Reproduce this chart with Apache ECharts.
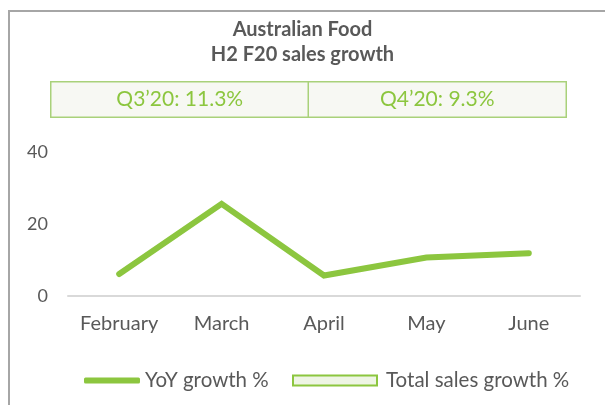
<!DOCTYPE html>
<html>
<head>
<meta charset="utf-8">
<script src="https://cdn.jsdelivr.net/npm/echarts@6/dist/echarts.min.js"></script>
<style>
  html, body { margin: 0; padding: 0; background: #fff; }
  #chart { width: 605px; height: 405px; }
</style>
</head>
<body>
<div id="chart"></div>
<script>
// monthly YoY growth (%)
const months = ['February', 'March', 'April', 'May', 'June'];
const yoyGrowth = [6.1, 25.6, 5.7, 10.7, 11.9];

// quarterly total sales growth (%)
const quarters = ["Q3\u201920", "Q4\u201920"];
const totalSalesGrowth = [11.3, 9.3];

const yTicks = [0, 20, 40];

const GREEN = '#8cc63f';
const TEXT = '#595959';
const FONT = 'Lato, "Open Sans", sans-serif';

const chart = echarts.init(document.getElementById('chart'));

chart.setOption({
    animation: false,
    textStyle: { fontFamily: FONT },
    title: {
        text: 'Australian Food\nH2 F20 sales growth',
        left: 'center',
        top: 17,
        padding: 0,
        textStyle: { fontSize: 20, fontWeight: 'bold', color: TEXT, lineHeight: 25, fontFamily: FONT },
    },
    graphic: [{
        type: 'rect',
        shape: { x: 9, y: 11, width: 640, height: 440 },
        style: { fill: 'none', stroke: '#a6a6a6', lineWidth: 2 },
        silent: true,
    }],
    legend: [
        {
            data: [{ name: 'YoY growth %', icon: 'roundRect' }],
            left: 84, top: 370, padding: 0,
            itemWidth: 56, itemHeight: 6,
            textStyle: { fontSize: 20.5, color: TEXT, fontFamily: FONT },
        },
        {
            data: [{
                name: 'Total sales growth %', icon: 'rect',
                itemStyle: { color: '#eef5e4', borderColor: GREEN, borderWidth: 2 },
            }],
            left: 292, top: 370, padding: 0,
            itemWidth: 84, itemHeight: 10,
            textStyle: { fontSize: 20.5, color: TEXT, fontFamily: FONT, padding: [0, 0, 0, 4] },
        },
    ],
    grid: [
        { left: 68, right: 25, top: 152, bottom: 109 },
        { left: 51, right: 39, top: 82, height: 35 },
    ],
    xAxis: [
        {
            type: 'category', gridIndex: 0, data: months, boundaryGap: true,
            axisLine: { lineStyle: { color: '#d9d9d9', width: 2 } },
            axisTick: { show: false },
            axisLabel: { fontSize: 20, color: TEXT, margin: 18, fontFamily: FONT },
        },
        {
            type: 'category', gridIndex: 1, data: quarters,
            axisLine: { show: false }, axisTick: { show: false }, axisLabel: { show: false },
        },
    ],
    yAxis: [
        {
            type: 'value', gridIndex: 0, min: yTicks[0], max: yTicks[yTicks.length - 1], interval: 20,
            splitLine: { show: false },
            axisLine: { show: false }, axisTick: { show: false },
            axisLabel: { fontSize: 18, color: TEXT, margin: 20, fontFamily: FONT },
        },
        {
            type: 'category', gridIndex: 1, data: [''],
            axisLine: { show: false }, axisTick: { show: false }, axisLabel: { show: false },
        },
    ],
    series: [
        {
            name: 'YoY growth %',
            type: 'line',
            xAxisIndex: 0, yAxisIndex: 0,
            data: yoyGrowth,
            symbol: 'none',
            lineStyle: { color: GREEN, width: 6, cap: 'round', join: 'miter' },
            itemStyle: { color: GREEN },
        },
        {
            name: 'Total sales growth %',
            type: 'heatmap',
            xAxisIndex: 1, yAxisIndex: 1,
            data: totalSalesGrowth.map((v, i) => [i, 0, v]),
            itemStyle: { color: '#f7f8f3', borderColor: '#a9d17a', borderWidth: 1.5 },
            label: {
                show: true,
                fontSize: 21,
                color: GREEN,
                fontFamily: FONT,
                formatter: p => `${quarters[p.data[0]]}: ${p.data[2]}%`,
            },
            emphasis: { disabled: true },
        },
    ],
});
</script>
</body>
</html>
